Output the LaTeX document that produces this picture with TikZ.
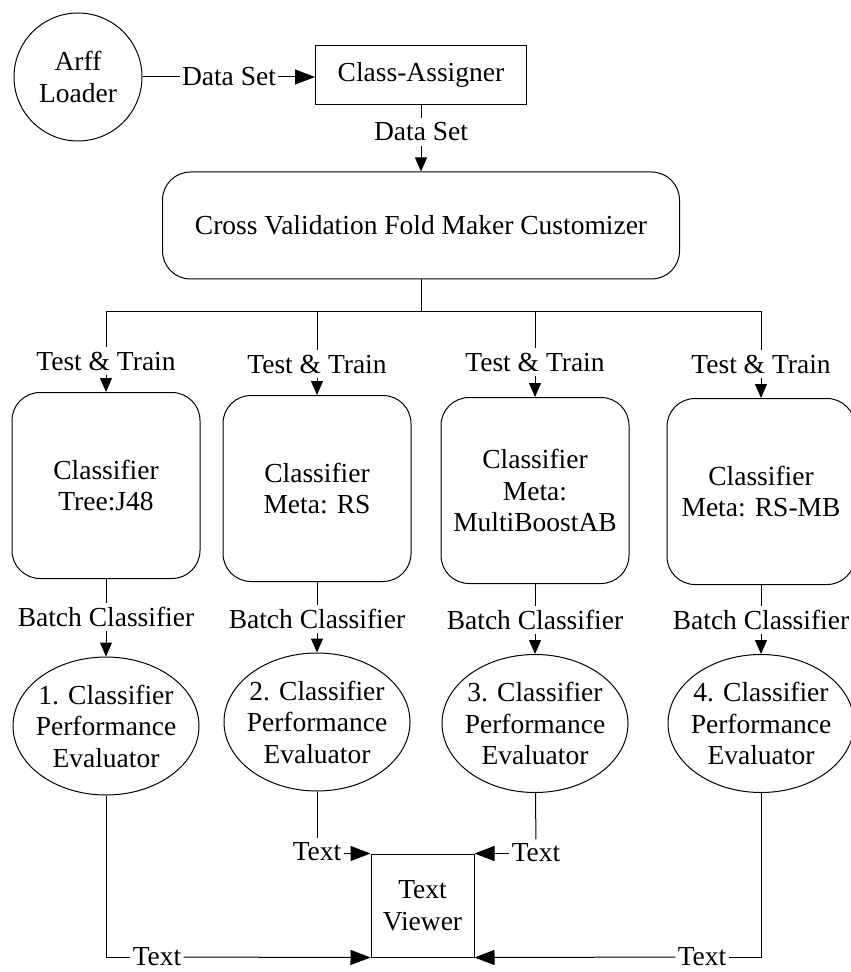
\documentclass[tikz,border=0pt]{standalone}
\usepackage{fontspec}
\setmainfont{Liberation Serif}
\usetikzlibrary{shapes.geometric, arrows.meta, positioning}

\begin{document}
\begin{tikzpicture}[
    x = 0.5pt, y = -0.5pt,
    line width = 0.5pt,
    font = \fontsize{13.75pt}{15.75pt}\selectfont,
    box/.style = {rectangle, draw, align=center, inner sep=0pt},
    roundbox/.style = {rectangle, draw, rounded corners=14pt, align=center, inner sep=0pt, minimum width=94pt, minimum height=93pt},
    evalnode/.style = {ellipse, draw, minimum width=93pt, minimum height=69pt},
    lbl/.style = {inner xsep=1pt, inner ysep=2pt},
    arrow/.style = {-{Triangle[length=7pt, width=6pt]}},
    harrow/.style = {-{Triangle[length=10pt, width=7.5pt]}}
]
\useasboundingbox (0,0) rectangle (850,972);

% Define nodes
\node[circle, draw, align=center, minimum size=64pt, inner sep=0pt] (arff) at (78,77) {Arff\\Loader};
\node[lbl] (ds1) at (229,77) {Data Set};
\node[box, minimum width=105.5pt, minimum height=29.5pt] (assign) at (421,75) {Class-Assigner};
\node[lbl] (ds2) at (421,132) {Data Set};
\node[box, rounded corners=14pt, minimum width=258.5pt, minimum height=53.5pt] (cv) at (421,225.5) {Cross Validation Fold Maker Customizer};
\coordinate (bus) at (421,312);

\node[lbl] (tt1) at (106,361) {Test \& Train};
\node[lbl] (tt2) at (317,364) {Test \& Train};
\node[lbl] (tt3) at (535,362) {Test \& Train};
\node[lbl] (tt4) at (761,364) {Test \& Train};

\node[roundbox] (cls1) at (106,485.5) {Classifier\\Tree:J48};
\node[roundbox] (cls2) at (317,488.5) {Classifier\\Meta: RS};
\node[roundbox] (cls3) at (535,490.5) {Classifier\\Meta:\\MultiBoostAB};
\node[roundbox] (cls4) at (761,491.5) {Classifier\\Meta: RS-MB};

\node[lbl] (bc1) at (106,617) {Batch Classifier};
\node[lbl] (bc2) at (317,619) {Batch Classifier};
\node[lbl] (bc3) at (535,620) {Batch Classifier};
\node[lbl] (bc4) at (761,620) {Batch Classifier};

\node[evalnode, label={[align=center]center:1. Classifier\\Performance\\Evaluator}] (ev1) at (106,726) {};
\node[evalnode, label={[align=center]center:2. Classifier\\Performance\\Evaluator}] (ev2) at (317,722) {};
\node[evalnode, label={[align=center]center:3. Classifier\\Performance\\Evaluator}] (ev3) at (535,723.5) {};
\node[evalnode, label={[align=center]center:4. Classifier\\Performance\\Evaluator}] (ev4) at (761,723.5) {};

\node[box, minimum width=51.5pt, minimum height=51.5pt] (viewer) at (422.5,905.5) {Text\\Viewer};
\node[lbl] (txt1) at (157,957) {Text};
\node[lbl] (txt2) at (317,852) {Text};
\node[lbl] (txt3) at (536,853) {Text};
\node[lbl] (txt4) at (702,957) {Text};

% Draw arrows
\draw (arff) -- (ds1);
\draw[harrow] (ds1) -- (ds1 -| assign.west);
\draw (assign) -- (ds2);
\draw[arrow] (ds2) -- (cv);
\draw (cv) -- (bus);
\foreach \i in {1,2,3,4} {
    \draw (bus) -| (tt\i);
    \draw[arrow] (tt\i) -- (cls\i);
    \draw (cls\i) -- (bc\i);
    \draw[arrow] (bc\i) -- (ev\i);
}
\draw (ev1) |- (txt1);
\draw[harrow] (txt1) -- (viewer.south west);
\draw (ev2) -- (txt2);
\draw[harrow] (txt2.east |- viewer.north) -- (viewer.north west);
\draw (ev3) -- (txt3);
\draw[harrow] (txt3.west |- viewer.north) -- (viewer.north east);
\draw (ev4) |- (txt4);
\draw[harrow] (txt4) -- (viewer.south east);

\end{tikzpicture}
\end{document}
